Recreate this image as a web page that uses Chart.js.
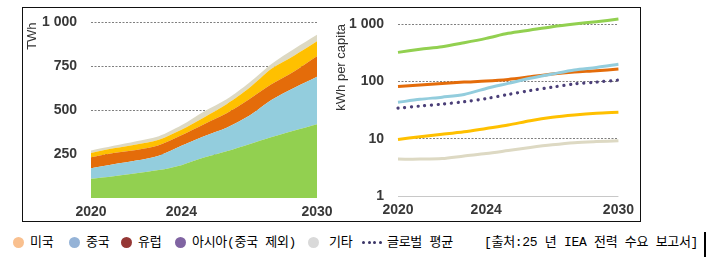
<!DOCTYPE html>
<html><head><meta charset="utf-8">
<script src="https://cdn.jsdelivr.net/npm/chart.js@4.4.0/dist/chart.umd.min.js"></script>
<style>
html,body{margin:0;padding:0;background:#fff;width:717px;height:257px;overflow:hidden;}
#frame{position:absolute;left:22px;top:7px;width:619px;height:215px;border:1.5px solid #111;box-sizing:border-box;}
#c1{position:absolute;left:0;top:0;}
#c2{position:absolute;left:330px;top:0;}
.lg{position:absolute;top:233px;height:20px;line-height:20px;font-family:"Liberation Mono","Noto Sans CJK KR",monospace;font-size:13px;color:#000;white-space:nowrap;letter-spacing:-0.3px;}
.dot{position:absolute;top:237px;width:11px;height:11px;border-radius:50%;}
.sd{position:absolute;top:241px;width:3.4px;height:3.4px;border-radius:50%;background:#3a3466;}
#bar{position:absolute;left:704px;top:232px;width:2px;height:25px;background:#000;}
</style></head>
<body>
<div id="frame"></div>
<canvas id="c1" width="345" height="225"></canvas>
<canvas id="c2" width="310" height="225"></canvas>
<div id="legend"></div>
<div id="bar"></div>
<script>
// ---- data ----
const years = [2020, 2021, 2022, 2023, 2024, 2025, 2026, 2027, 2028, 2029, 2030];
const xTickYears = [2020, 2024, 2030];

// left panel: stacked electricity demand (TWh), bottom to top
const demandGreen  = [109, 124, 141, 159, 187, 230, 266, 306, 347, 384, 420];
const demandBlue   = [ 61,  68,  72,  82, 110, 122, 134, 162, 212, 244, 271];
const demandOrange = [ 62,  64,  61,  60,  60,  68,  82,  94,  90,  94, 116];
const demandYellow = [ 24,  27,  31,  31,  32,  39,  52,  64,  88,  90,  86];
const demandBeige  = [ 14,  14,  18,  20,  25,  34,  28,  30,  27,  38,  37];
const leftYTicks  = [250, 500, 750, 1000];
const leftYLabels = ["250", "500", "750", "1 000"];

// right panel: kWh per capita (log)
const perCapGreen  = [320, 362, 402, 472, 562, 687, 786, 898, 1000, 1096, 1222];
const perCapOrange = [81, 86, 92, 97, 101, 108, 120, 134, 145, 153, 164];
const perCapBlue   = [43, 48.5, 53, 59, 75, 92, 113, 134, 158, 175, 198];
const perCapGlobal = [34, 37, 40, 44, 50, 59, 69, 79, 90, 97, 105];
const perCapYellow = [9.7, 10.8, 11.9, 13.2, 15.1, 17.3, 20.6, 23.6, 25.9, 27.7, 28.8];
const perCapBeige  = [4.4, 4.4, 4.5, 5.0, 5.5, 6.2, 7.0, 7.8, 8.5, 8.9, 9.2];
const rightYTicks  = [1, 10, 100, 1000];
const rightYLabels = ["1", "10", "100", "1 000"];

// legend
const legendNames  = ["미국", "중국", "유럽", "아시아(중국 제외)", "기타"];
const legendColors = ["#F9C08F", "#95B3D7", "#953735", "#8064A2", "#D9D9D9"];
const globalLabel  = "글로벌 평균";
const sourceLabel  = "[출처:25 년 IEA 전력 수요 보고서]";

// ---- styles ----
const C = {green:"#92D050", blue:"#93CDDD", orange:"#E46C0A", yellow:"#FFC000", beige:"#DDD9C3", purple:"#4B3F78"};
const tickFont = {family:"Liberation Sans", size:14, weight:"bold"};
const tickColor = "#383838";
const titleFont = {family:"Liberation Sans", size:13};
const gridColor = "#7f7f7f";

const pts = arr => arr.map((v, i) => ({x: years[i], y: v}));
const fixTicks = list => s => { s.ticks = list.map(v => ({value: v})); };

// ---- left chart ----
const areaDs = (data, color, fill) => ({data: pts(data), backgroundColor: color, borderColor: color, borderWidth: 0, fill: fill, pointRadius: 0, tension: 0.3});
new Chart(document.getElementById("c1"), {
  type: "line",
  data: {datasets: [
    areaDs(demandGreen, C.green, "origin"),
    areaDs(demandBlue, C.blue, "-1"),
    areaDs(demandOrange, C.orange, "-1"),
    areaDs(demandYellow, C.yellow, "-1"),
    areaDs(demandBeige, C.beige, "-1")
  ]},
  options: {
    responsive: false, animation: false,
    layout: {padding: {left: 20, top: 16, right: 28, bottom: 0}},
    plugins: {legend: {display: false}, tooltip: {enabled: false}},
    scales: {
      x: {type: "linear", min: 2020, max: 2030,
          afterBuildTicks: fixTicks(xTickYears),
          afterFit: s => { s.height = 27; },
          grid: {display: false, drawTicks: false}, border: {display: false},
          ticks: {padding: 6, font: tickFont, color: tickColor, maxRotation: 0, autoSkip: false, callback: v => String(v)}},
      y: {stacked: true, min: 0, max: 1000,
          afterBuildTicks: fixTicks(leftYTicks),
          afterFit: s => { s.width = 71; },
          grid: {color: gridColor, drawTicks: false, lineWidth: 1},
          border: {display: false, dash: [2, 1.5]},
          ticks: {padding: 14, font: tickFont, color: tickColor, callback: (v, i) => leftYLabels[i]},
          title: {display: true, text: "TWh", align: "end", font: titleFont, color: "#333", padding: {top: 5, bottom: 0}}}
    }
  }
});

// ---- right chart ----
const lineDs = (data, color, extra) => Object.assign({data: pts(data), borderColor: color, backgroundColor: color, borderWidth: 3, fill: false, pointRadius: 0, tension: 0.3, clip: false}, extra || {});
new Chart(document.getElementById("c2"), {
  type: "line",
  data: {datasets: [
    lineDs(perCapBeige, C.beige),
    lineDs(perCapYellow, C.yellow),
    lineDs(perCapBlue, C.blue),
    lineDs(perCapOrange, C.orange),
    lineDs(perCapGlobal, C.purple, {borderDash: [0.1, 6.6], borderCapStyle: "round", borderWidth: 3.2}),
    lineDs(perCapGreen, C.green)
  ]},
  options: {
    responsive: false, animation: false,
    layout: {padding: {left: 4, top: 24, right: 21, bottom: 0}},
    plugins: {legend: {display: false}, tooltip: {enabled: false}},
    scales: {
      x: {type: "linear", min: 2020, max: 2030,
          afterBuildTicks: fixTicks(xTickYears),
          afterFit: s => { s.height = 29; },
          grid: {display: false, drawTicks: false}, border: {display: false},
          ticks: {padding: 6, font: tickFont, color: tickColor, maxRotation: 0, autoSkip: false, callback: v => String(v)}},
      y: {type: "logarithmic", min: 1, max: 1000,
          afterBuildTicks: fixTicks(rightYTicks),
          afterFit: s => { s.width = 64; },
          grid: {color: ctx => (ctx.tick && ctx.tick.value === 1) ? "#c8c8c8" : gridColor, drawTicks: false, lineWidth: 1},
          border: {display: false, dash: ctx => (ctx.tick && ctx.tick.value === 1) ? [] : [2, 1.5]},
          ticks: {padding: 14, font: tickFont, color: tickColor, callback: (v, i) => rightYLabels[i]},
          title: {display: true, text: "kWh per capita", align: "end", font: titleFont, color: "#333", padding: {top: 0, bottom: 0}}}
    }
  }
});

// ---- legend (HTML) ----
const dotX  = [13, 69, 121, 175, 308];
const textX = [30, 86, 138, 192, 329];
const addEl = (cls, left, txt, bg) => {
  const e = document.createElement("div"); e.className = cls; e.style.left = left + "px";
  if (txt) e.textContent = txt; if (bg) e.style.background = bg;
  document.body.appendChild(e);
};
legendNames.forEach((n, i) => { addEl("dot", dotX[i], null, legendColors[i]); addEl("lg", textX[i], n); });
[362, 367.5, 373, 378.5].forEach(x => addEl("sd", x));
addEl("lg", 387, globalLabel);
addEl("lg", 484, sourceLabel);
</script>
</body></html>
